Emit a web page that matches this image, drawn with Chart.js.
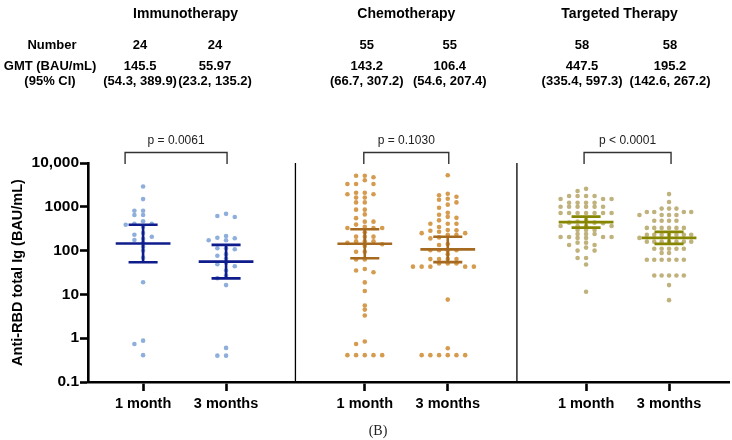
<!DOCTYPE html>
<html><head><meta charset="utf-8">
<script src="https://cdn.jsdelivr.net/npm/chart.js@4/dist/chart.umd.min.js"></script>
<style>html,body{margin:0;padding:0;background:#fff}#wrap{width:732px;height:440px}</style>
</head><body><div id="wrap"><canvas id="c" width="732" height="440"></canvas></div>
<script>
// ---------------- DATA ----------------
const therapies = ['Immunotherapy', 'Chemotherapy', 'Targeted Therapy'];
const timepoints = ['1 month', '3 months'];
const numbers = [24, 24, 55, 55, 58, 58];
const gmt = [145.5, 55.97, 143.2, 106.4, 447.5, 195.2];
const ciLow = [54.3, 23.2, 66.7, 54.6, 335.4, 142.6];
const ciHigh = [389.9, 135.2, 307.2, 207.4, 597.3, 267.2];
const pValues = ['p = 0.0061', 'p = 0.1030', 'p < 0.0001'];
const yTicks = [0.1, 1, 10, 100, 1000, 10000];
const yTickLabels = ['0.1', '1', '10', '100', '1000', '10,000'];
const yTitle = 'Anti-RBD total Ig (BAU/mL)';
const caption = '(B)';

const immuno1M = [2900, 1500, 815, 815, 650, 650, 467, 411, 411, 390, 352, 251, 230, 207, 187, 175, 152, 123, 100, 69, 18.9, 0.88, 0.74, 0.41];
const immuno3M = [690, 617, 585, 215, 196, 192, 172, 172, 113, 113, 107, 83, 76, 66, 53, 49, 44, 35, 27, 23.5, 16.3, 0.6, 0.4, 0.4];
const chemo1M = [5130, 5130, 4710, 4030, 3310, 3310, 3310, 2090, 2090, 1930, 1930, 1620, 1620, 1260, 1260, 860, 860, 670, 550, 458, 458, 392, 351, 328, 328, 328, 262, 208, 208, 208, 163, 163, 163, 150, 140, 127, 94, 94, 63, 63, 38, 35, 32, 18.8, 12, 5.6, 4.5, 3.3, 0.84, 0.74, 0.41, 0.41, 0.41, 0.41, 0.41];
const chemo3M = [5240, 1990, 1830, 1700, 1530, 1450, 1260, 1120, 950, 730, 660, 590, 560, 490, 410, 410, 410, 345, 295, 290, 283, 270, 250, 250, 230, 230, 200, 190, 141, 134, 102, 102, 102, 102, 83, 64, 64, 64, 64, 51, 51, 51, 43, 43, 43, 43, 43, 7.6, 0.59, 0.41, 0.41, 0.41, 0.41, 0.41, 0.41];
const targeted1M = [2570, 2290, 1770, 1770, 1770, 1770, 1510, 1510, 1510, 1230, 1230, 1230, 1230, 1000, 1000, 1000, 1000, 1000, 1000, 720, 720, 720, 720, 720, 720, 720, 500, 460, 435, 435, 420, 365, 365, 365, 365, 295, 295, 295, 240, 240, 240, 205, 205, 205, 205, 195, 195, 152, 152, 134, 134, 117, 100, 100, 68, 68, 48, 11.5];
const targeted3M = [1950, 1290, 910, 910, 910, 760, 760, 760, 760, 650, 650, 650, 650, 480, 480, 480, 480, 330, 330, 330, 330, 330, 330, 230, 230, 230, 230, 230, 230, 230, 195, 160, 160, 160, 160, 160, 160, 160, 110, 110, 110, 110, 110, 88, 88, 62, 62, 62, 62, 62, 62, 27, 27, 27, 27, 27, 16.3, 7.4];

// ---------------- LAYOUT / STYLE ----------------
const groups = [immuno1M, immuno3M, chemo1M, chemo3M, targeted1M, targeted3M];
const catPos = [1, 2, 3.672, 4.672, 6.339, 7.339];
const sepPos = [(catPos[1] + catPos[2]) / 2, (catPos[3] + catPos[4]) / 2];
const dotColors = ['#8eaedb', '#8eaedb', '#d59b4f', '#d59b4f', '#c0b27c', '#c0b27c'];
const barColors = ['#0f1d8c', '#0f1d8c', '#a5691f', '#a5691f', '#868600', '#868600'];
const swarmSpacing = [8.7, 8.7, 8.7, 8.7, 8.5, 7.4];
const FONT = "'Liberation Sans', Arial, Helvetica, sans-serif";

const dotSets = groups.map((vals, g) => ({
  type: 'scatter',
  data: vals.map(v => ({x: catPos[g], y: v})),
  pointRadius: 2.3, pointHoverRadius: 2.3,
  pointBackgroundColor: dotColors[g], pointBorderWidth: 0,
  order: 3
}));
const barSets = groups.map((_, g) => {
  const c = catPos[g], m = 0.33, k = 0.175;
  return {
    type: 'line',
    data: [
      {x: c - m, y: gmt[g]}, {x: c + m, y: gmt[g]}, {x: c, y: null},
      {x: c - k, y: ciHigh[g]}, {x: c + k, y: ciHigh[g]}, {x: c, y: null},
      {x: c - k, y: ciLow[g]}, {x: c + k, y: ciLow[g]}, {x: c, y: null},
      {x: c, y: ciLow[g]}, {x: c, y: ciHigh[g]}
    ],
    borderColor: barColors[g], borderWidth: 2.6, pointRadius: 0,
    spanGaps: false, fill: false, tension: 0, borderCapStyle: 'butt',
    order: 1
  };
});
const sepSets = sepPos.map(s => ({
  type: 'line',
  data: [{x: s, y: yTicks[0]}, {x: s, y: yTicks[yTicks.length - 1]}],
  borderColor: '#000', borderWidth: 1.3, pointRadius: 0, order: 2
}));

const tableNudge = [-3, -11, 2, 2, -4, 1];
const headerNudge = [1, 0, -8];
const bracketNudgeLeft = [-18, -1, -2];
const bracketNudgeRight = [1, 1, 2];

const textPlugin = {
  id: 'texts',
  afterDraw(chart) {
    const ctx = chart.ctx, xs = chart.scales.x;
    const px = i => xs.getPixelForValue(catPos[i]);
    ctx.save();
    ctx.fillStyle = '#000';
    ctx.textAlign = 'center';
    ctx.textBaseline = 'alphabetic';
    ctx.font = 'bold 14px ' + FONT;
    therapies.forEach((t, i) => {
      const cx = (px(2 * i) + px(2 * i + 1)) / 2 + headerNudge[i];
      ctx.fillText(t, cx, 18);
    });
    ctx.font = 'bold 13px ' + FONT;
    ctx.fillText('Number', 52, 48.5);
    ctx.fillText('GMT (BAU/mL)', 50, 70);
    ctx.fillText('(95% CI)', 50, 84.5);
    numbers.forEach((n, i) => {
      const cx = px(i) + tableNudge[i];
      ctx.fillText(String(n), cx, 48.5);
      ctx.fillText(String(gmt[i]), cx, 70);
      ctx.fillText('(' + ciLow[i] + ', ' + ciHigh[i] + ')', cx, 84.5);
    });
    const ys = chart.scales.y;
    const topY = ys.getPixelForValue(yTicks[yTicks.length - 1]) - 10.5;
    const legY = ys.getPixelForValue(yTicks[yTicks.length - 1]) + 1;
    ctx.strokeStyle = '#333';
    ctx.lineWidth = 1.4;
    pValues.forEach((p, i) => {
      const l = px(2 * i) + bracketNudgeLeft[i], r = px(2 * i + 1) + bracketNudgeRight[i];
      ctx.beginPath();
      ctx.moveTo(l, legY); ctx.lineTo(l, topY); ctx.lineTo(r, topY); ctx.lineTo(r, legY);
      ctx.stroke();
      ctx.font = '12px ' + FONT;
      ctx.fillStyle = '#222';
      ctx.fillText(p, (l + r) / 2, topY - 8.5);
    });
    ctx.font = "14px 'Liberation Serif', 'Times New Roman', serif";
    ctx.fillStyle = '#222';
    ctx.fillText(caption, 378, 435);
    ctx.restore();
  }
};

const chart = new Chart(document.getElementById('c'), {
  type: 'scatter',
  data: {datasets: [...dotSets, ...barSets, ...sepSets]},
  options: {
    responsive: false, animation: false, devicePixelRatio: 1,
    layout: {padding: {top: 163, left: 0, right: 0, bottom: 0}},
    plugins: {legend: {display: false}, tooltip: {enabled: false}},
    events: [],
    scales: {
      x: {
        type: 'linear', min: 0.336, max: 8.07,
        afterBuildTicks: s => { s.ticks = catPos.map(v => ({value: v})); },
        afterFit: s => { s.height = 58; },
        ticks: {
          autoSkip: false, maxRotation: 0, padding: 4, color: '#000',
          font: {family: FONT, size: 14.5, weight: 'bold'},
          callback: v => { const i = catPos.findIndex(c => Math.abs(c - v) < 1e-6); return i < 0 ? '' : timepoints[i % 2]; }
        },
        grid: {display: true, drawOnChartArea: false, drawTicks: true, tickLength: 9, tickWidth: 2.6, tickColor: '#000'},
        border: {display: true, color: '#000', width: 2.6}
      },
      y: {
        type: 'logarithmic', min: yTicks[0], max: yTicks[yTicks.length - 1],
        afterBuildTicks: s => { s.ticks = yTicks.map(v => ({value: v})); },
        afterFit: s => { s.width = 88; },
        ticks: {
          autoSkip: false, padding: 1, color: '#000',
          font: {family: FONT, size: 15.5, weight: 'bold'},
          callback: v => { const i = yTicks.findIndex(t => Math.abs(t - v) / t < 1e-6); return i < 0 ? '' : yTickLabels[i]; }
        },
        grid: {display: true, drawOnChartArea: false, drawTicks: true, tickLength: 8, tickWidth: 2.6, tickColor: '#000'},
        border: {display: true, color: '#000', width: 2.6},
        title: {display: true, text: yTitle, color: '#000', font: {family: FONT, size: 14.5, weight: 'bold'}, padding: {top: 9, bottom: 0}}
      }
    }
  },
  plugins: [textPlugin]
});

// beeswarm layout (grid columns, collision-avoiding) computed from the library's own scales
function layoutSwarm() {
  const xs = chart.scales.x, ys = chart.scales.y;
  const unit = xs.getPixelForValue(2) - xs.getPixelForValue(1);
  const cands = [0];
  for (let k = 1; k <= 16; k++) { cands.push(-k / 2, k / 2); }
  const minDy = 3.8;
  groups.forEach((vals, g) => {
    const s = swarmSpacing[g];
    const items = vals.map((v, i) => ({i, py: ys.getPixelForValue(v)})).sort((a, b) => a.py - b.py);
    const placed = [];
    const data = chart.data.datasets[g].data;
    items.forEach(it => {
      let chosen = 0;
      for (const k of cands) {
        const off = k * s;
        const hit = placed.some(p => Math.abs(p.off - off) < 0.9 * s && Math.abs(p.py - it.py) < minDy);
        if (!hit) { chosen = off; break; }
      }
      placed.push({off: chosen, py: it.py});
      data[it.i].x = catPos[g] + chosen / unit;
    });
  });
  chart.update('none');
}
layoutSwarm();
</script></body></html>
